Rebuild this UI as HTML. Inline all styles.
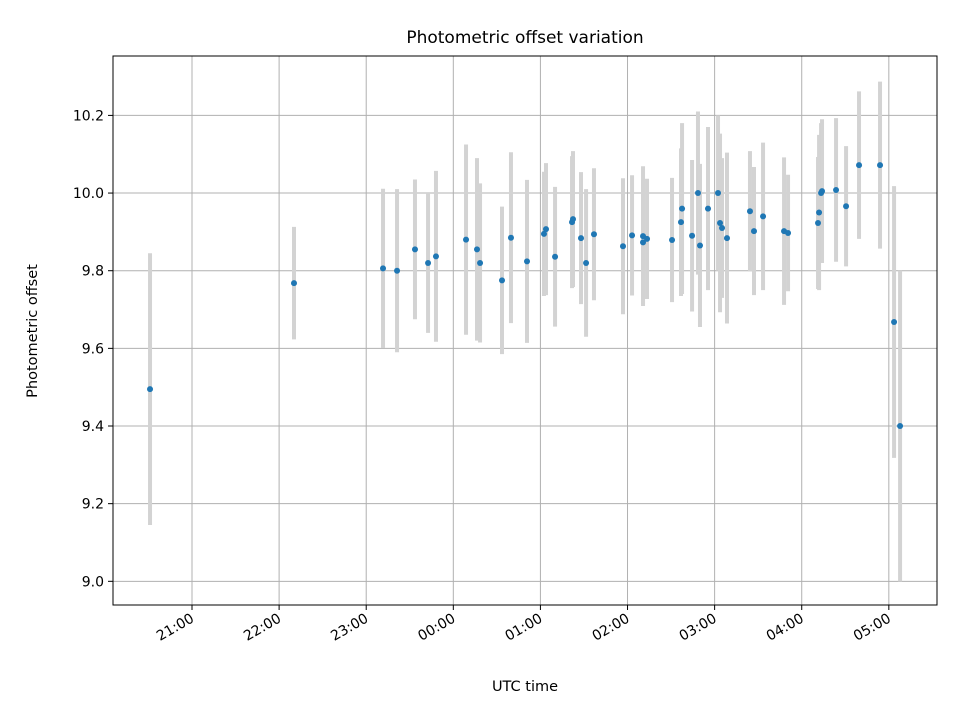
<!DOCTYPE html>
<html><head><meta charset="utf-8"><style>
body{margin:0;background:#fff;font-family:"Liberation Sans","DejaVu Sans",sans-serif}
svg text{font-family:"DejaVu Sans","Liberation Sans",sans-serif;fill:#000}
</style></head><body>
<svg id="c" width="960" height="720" xmlns="http://www.w3.org/2000/svg"></svg>
<script>
const xTickLabels=["21:00","22:00","23:00","00:00","01:00","02:00","03:00","04:00","05:00"];
const yTickValues=[9.0,9.2,9.4,9.6,9.8,10.0,10.2];
const xs=[150,294,383,397,415,428,436,466,477,480,502,511,527,544,546,555,572,573,581,586,594,623,632,643,643,647,672,681,682,692,698,700,708,718,720,722,727,750,754,763,784,788,818,819,821,822,836,846,859,880,894,900];
const times=xs.map(x=>+((x-192)/87.1).toFixed(3)); // hours since 21:00
const values=[9.495,9.768,9.806,9.80,9.855,9.82,9.837,9.88,9.855,9.82,9.775,9.885,9.824,9.895,9.907,9.836,9.925,9.933,9.884,9.82,9.894,9.863,9.891,9.889,9.873,9.882,9.879,9.925,9.96,9.89,10.0,9.865,9.96,10.0,9.923,9.91,9.884,9.953,9.902,9.94,9.902,9.897,9.923,9.95,10.0,10.005,10.008,9.966,10.072,10.072,9.668,9.40];
const errors=[0.35,0.145,0.205,0.21,0.18,0.18,0.22,0.245,0.235,0.205,0.19,0.22,0.21,0.16,0.17,0.18,0.17,0.175,0.17,0.19,0.17,0.175,0.155,0.18,0.16,0.155,0.16,0.19,0.22,0.195,0.21,0.21,0.21,0.2,0.23,0.18,0.22,0.155,0.165,0.19,0.19,0.15,0.17,0.2,0.18,0.185,0.185,0.155,0.19,0.215,0.35,0.4];
const L=113,R=937,T=56,B=605;
const xMin=-0.907,xMax=8.553,yMin=8.939,yMax=10.353;
const sx=h=>L+(h-xMin)/(xMax-xMin)*(R-L);
const sy=v=>B-(v-yMin)/(yMax-yMin)*(B-T);
const svg=document.getElementById('c');const NS='http://www.w3.org/2000/svg';
function mk(t,a,p){const e=document.createElementNS(NS,t);for(const k in a)e.setAttribute(k,a[k]);(p||svg).appendChild(e);return e;}
const grid=mk('g',{});
xTickLabels.forEach((lab,i)=>{const x=sx(i);
 mk('line',{x1:x,x2:x,y1:T,y2:B,stroke:'#b0b0b0','stroke-width':1},grid);
 mk('line',{x1:x,x2:x,y1:B,y2:B+5,stroke:'#000','stroke-width':1});
 const t=mk('text',{x:x+3,y:B+16,'font-size':14,'text-anchor':'end',transform:`rotate(-30 ${x+3} ${B+16})`});t.textContent=lab;
 });
yTickValues.forEach(v=>{const y=sy(v);
 mk('line',{x1:L,x2:R,y1:y,y2:y,stroke:'#b0b0b0','stroke-width':1},grid);
 mk('line',{x1:L-5,x2:L,y1:y,y2:y,stroke:'#000','stroke-width':1});
 const t=mk('text',{x:L-9,y:y+5,'font-size':14,'text-anchor':'end'});t.textContent=v.toFixed(1);
 });
const eg=mk('g',{});
times.forEach((h,i)=>{const x=sx(h);
 const l=mk('line',{x1:x,x2:x,y1:sy(values[i]+errors[i]),y2:sy(values[i]-errors[i]),stroke:'#d3d3d3','stroke-width':4},eg);
 });
const pg=mk('g',{});
times.forEach((h,i)=>{const c=mk('circle',{cx:sx(h),cy:sy(values[i]),r:3,fill:'#1f77b4'},pg);
 });
const f=mk('rect',{x:L,y:T,width:R-L,height:B-T,fill:'none',stroke:'#000','stroke-width':1});

let t=mk('text',{x:525,y:43,'font-size':17,'text-anchor':'middle'});t.textContent='Photometric offset variation';

t=mk('text',{x:525,y:691,'font-size':14.5,'text-anchor':'middle'});t.textContent='UTC time';

t=mk('text',{x:37,y:331,'font-size':14.5,'text-anchor':'middle',transform:'rotate(-90 37 331)'});t.textContent='Photometric offset';

</script>
</body></html>
